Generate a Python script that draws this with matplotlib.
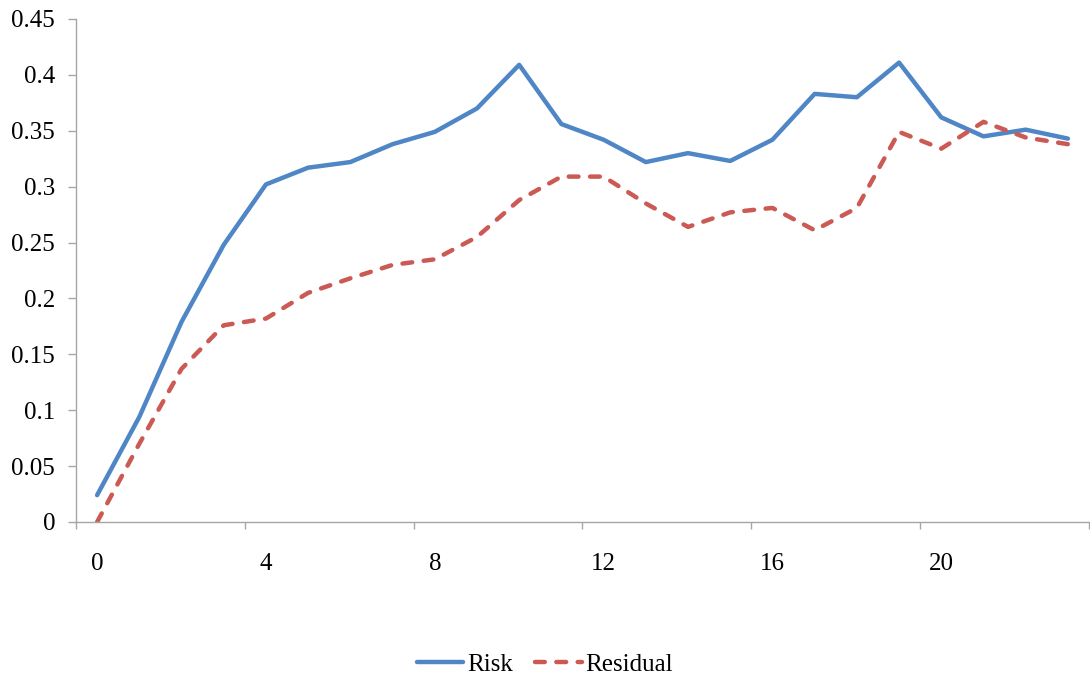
import matplotlib
matplotlib.use("Agg")
import matplotlib.pyplot as plt
from matplotlib.ticker import FixedLocator, FuncFormatter

# Series values per period
periods = list(range(24))
risk = [0.024, 0.094, 0.179, 0.248, 0.302, 0.317, 0.322, 0.338, 0.349, 0.370,
        0.409, 0.356, 0.342, 0.322, 0.330, 0.323, 0.342, 0.383, 0.380, 0.411,
        0.362, 0.345, 0.351, 0.343]
residual = [0.000, 0.070, 0.137, 0.176, 0.182, 0.205, 0.218, 0.230, 0.235, 0.255,
            0.288, 0.309, 0.309, 0.285, 0.264, 0.277, 0.281, 0.261, 0.281, 0.349,
            0.334, 0.358, 0.344, 0.338]
xtick_labels = [0, 4, 8, 12, 16, 20]
yticks = [0, 0.05, 0.1, 0.15, 0.2, 0.25, 0.3, 0.35, 0.4, 0.45]

plt.rcParams['font.family'] = ['Liberation Serif', 'DejaVu Serif']

W, H = 1090, 679
fig = plt.figure(figsize=(W / 100, H / 100), dpi=100)
ax = fig.add_axes([76 / W, (H - 522) / H, (1089 - 76) / W, (522 - 19) / H])

blue = '#4F86C6'
red = '#CB5A54'
ax.plot(periods, risk, color=blue, lw=3.2, solid_capstyle='round',
        solid_joinstyle='round', label='Risk')
ax.plot(periods, residual, color=red, lw=3.2, dashes=(2.2, 2.6),
        dash_capstyle='round', dash_joinstyle='round', label='Residual')

ax.set_xlim(-0.5, 23.5)
ax.set_ylim(0, 0.45)

axis_col = '#A6A6A6'
for side in ('top', 'right'):
    ax.spines[side].set_visible(False)
for side in ('left', 'bottom'):
    ax.spines[side].set_color(axis_col)
    ax.spines[side].set_linewidth(1.0)

# Category axis: labels centred on categories, tick marks at boundaries
ax.xaxis.set_major_locator(FixedLocator(xtick_labels))
ax.xaxis.set_major_formatter(FuncFormatter(lambda v, p: f"{int(v)}"))
ax.xaxis.set_minor_locator(FixedLocator([b - 0.5 for b in range(0, 25, 4)]))
ax.tick_params(axis='x', which='major', length=0, pad=22, labelsize=18,
               colors='black')
ax.tick_params(axis='x', which='minor', length=5, width=1.0, color=axis_col)

ax.set_yticks(yticks)
ax.yaxis.set_major_formatter(FuncFormatter(lambda v, p: f"{v:g}"))
ax.tick_params(axis='y', which='major', length=6, width=1.0, color=axis_col,
               pad=9, labelsize=18, labelcolor='black')

leg = fig.legend(loc='lower center', bbox_to_anchor=(0.5, -0.010), ncol=2,
                 frameon=False, fontsize=18, handlelength=1.85,
                 handletextpad=0.15, columnspacing=0.9, borderaxespad=0)

fig.savefig('out.png', dpi=100, facecolor='white')
